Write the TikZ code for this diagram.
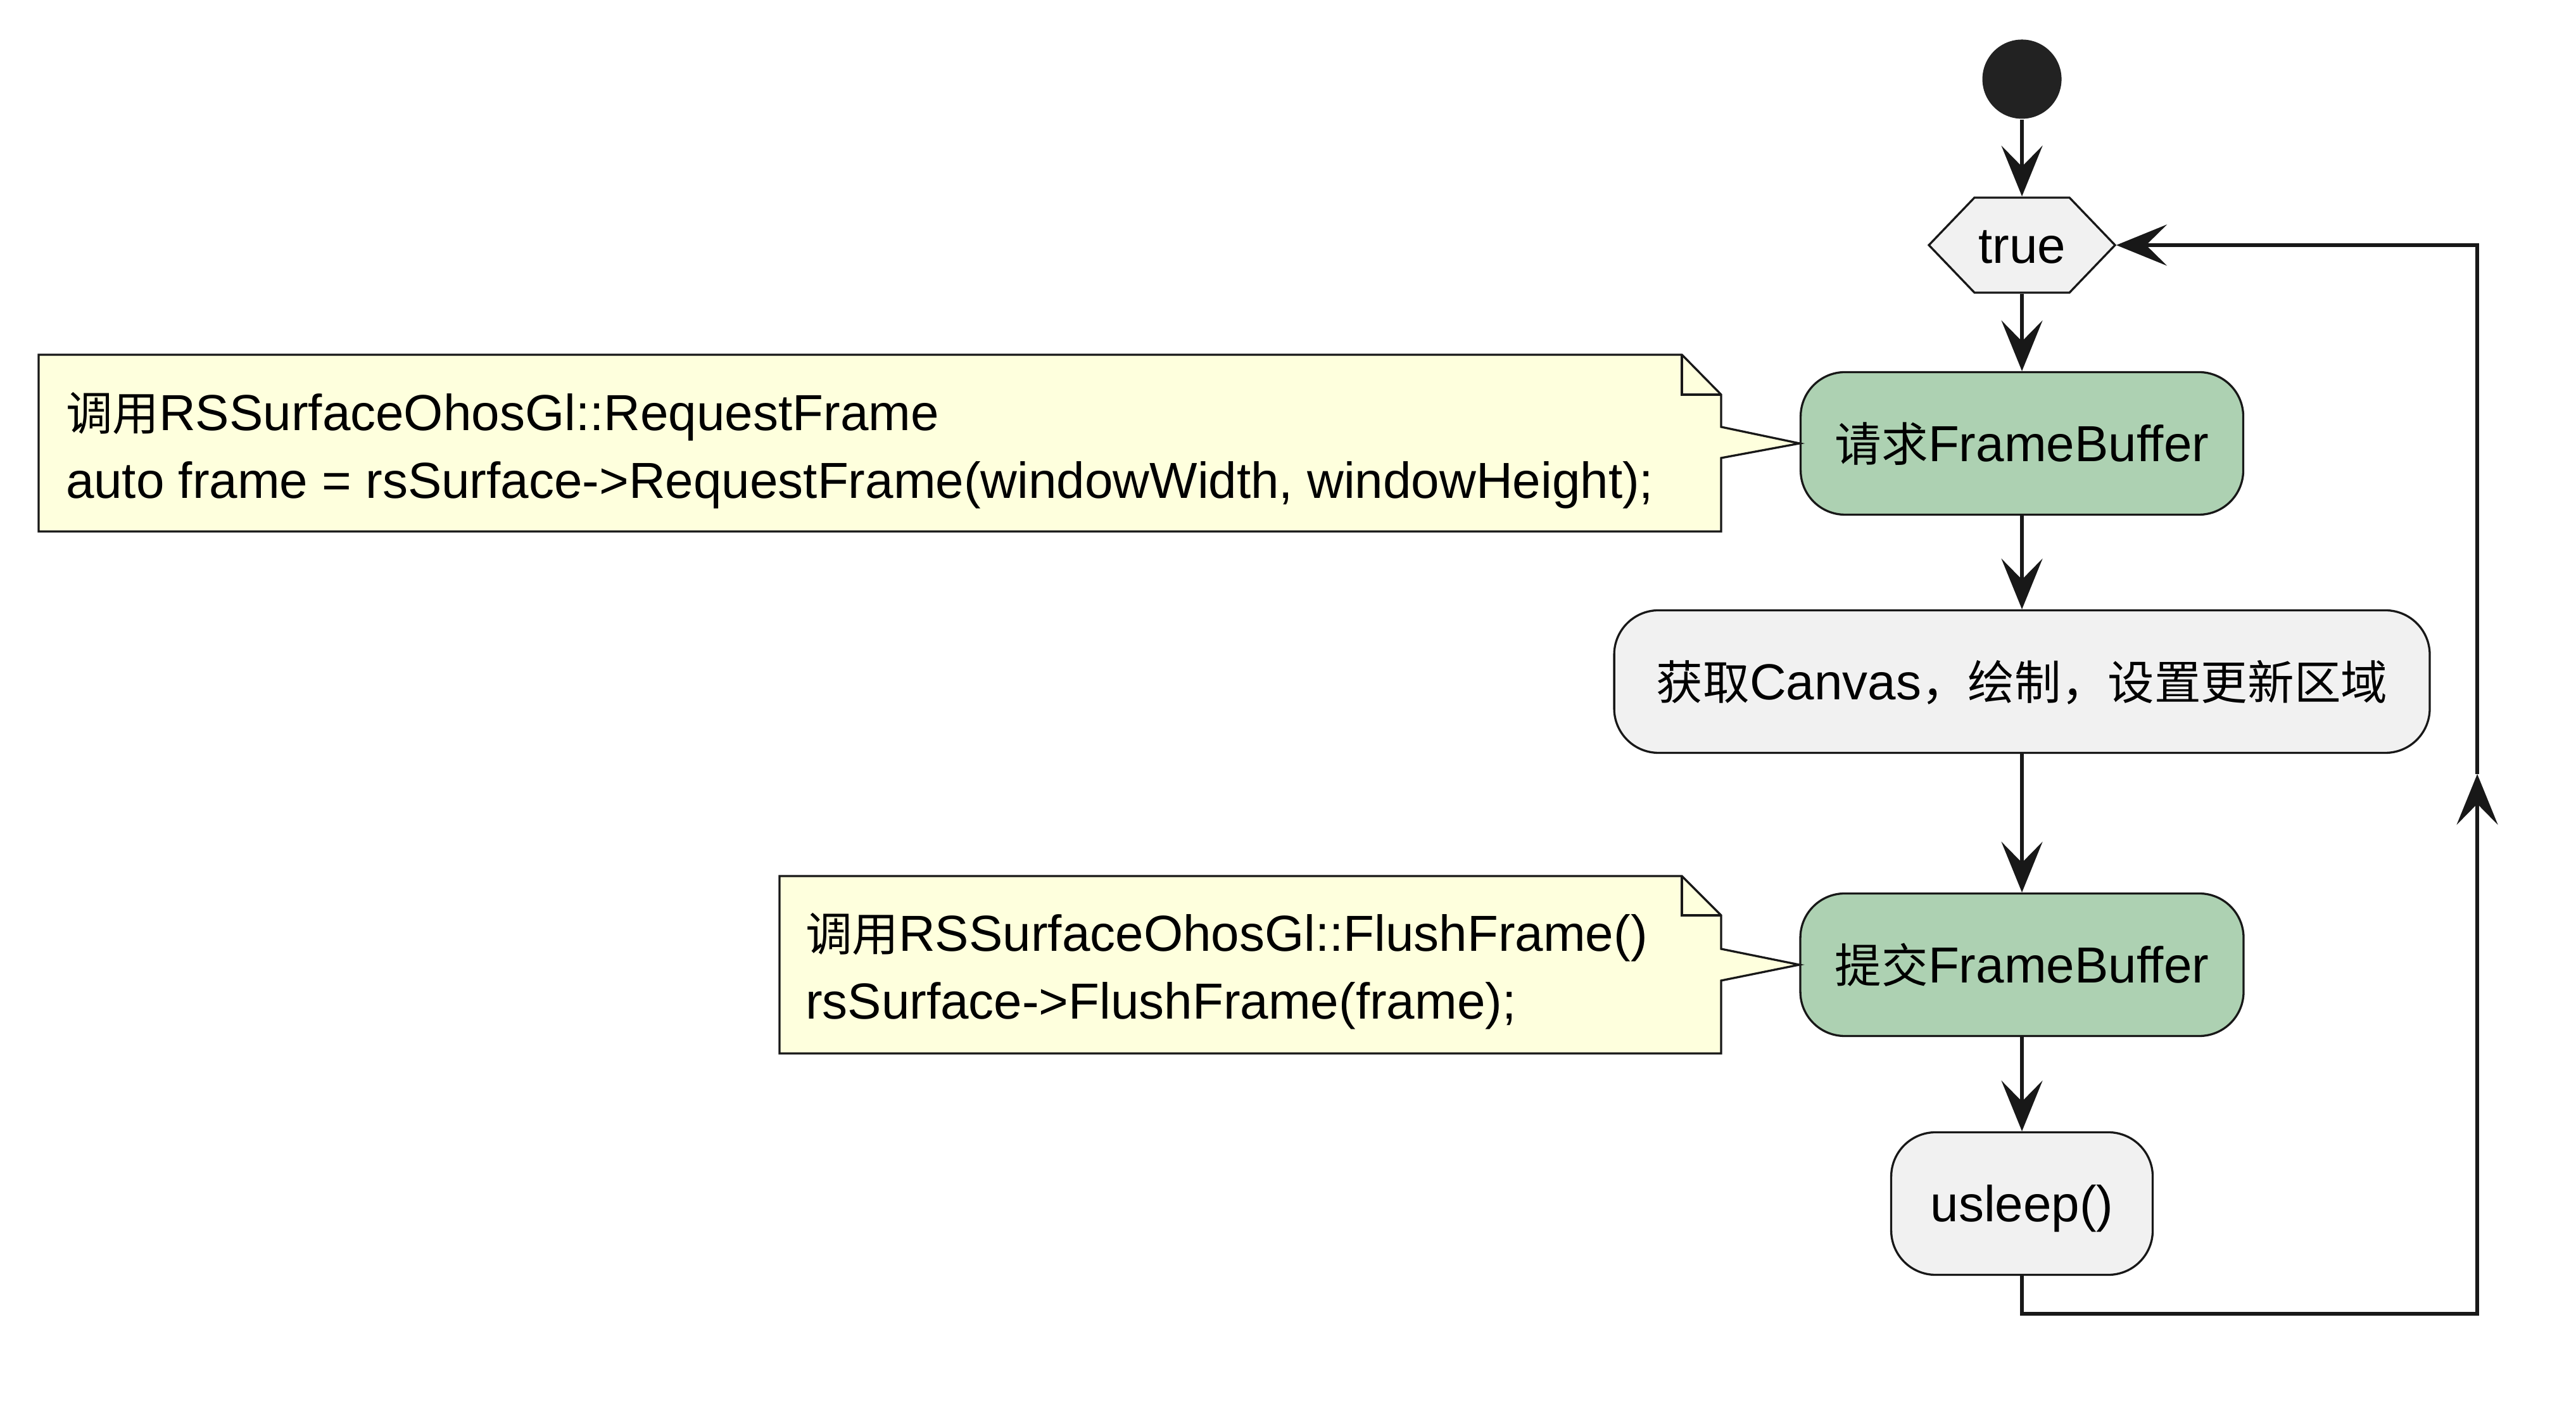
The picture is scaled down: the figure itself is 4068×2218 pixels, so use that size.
\documentclass[tikz,border=0pt]{standalone}
\usepackage{fontspec}
\setmainfont{Liberation Sans}
\newfontfamily\cjk{Noto Sans CJK SC}[Scale=0.92]
\usetikzlibrary{arrows.meta}
\definecolor{greenfill}{HTML}{ADD1B2}
\definecolor{greyfill}{HTML}{F1F1F1}
\definecolor{notefill}{HTML}{FEFFDD}
\definecolor{ink}{HTML}{181818}
\definecolor{dotfill}{HTML}{222222}
\tikzset{
  flow/.style={draw=ink, line width=0.57pt, -{Stealth[length=8pt,width=6.5pt,inset=3.3pt]}},
  loopline/.style={draw=ink, line width=0.57pt},
  activity/.style={draw=ink, line width=0.33pt, rounded corners=7pt, minimum height=22.5pt,
    inner sep=0pt, text height=5.73pt, text depth=0pt},
  notebox/.style={draw=ink, fill=notefill, line width=0.33pt},
  notefold/.style={draw=ink, line width=0.33pt},
  notetext/.style={anchor=base west, inner sep=0pt},
  hexbox/.style={draw=ink, fill=greyfill, line width=0.33pt},
}
\begin{document}
\begin{tikzpicture}[x=0.1pt, y=-0.1pt, font=\fontsize{8pt}{10.7pt}\selectfont, text=black]
\useasboundingbox (0,0) rectangle (4068,2218);

% start
\node[circle, fill=dotfill, minimum size=12.5pt, inner sep=0pt] (start) at (3193,125) {};

% hexagon "true"
\path[hexbox] (3046,387) -- (3118,312) -- (3268,312) -- (3340,387) -- (3268,462) -- (3118,462) -- cycle;
\node[minimum width=29.4pt, minimum height=15pt, inner sep=0pt, text height=5.73pt, text depth=0pt] (hex) at (3193,387) {true};

% activities
\node[activity, fill=greenfill, minimum width=69.9pt] (req) at (3193,700) {{\cjk 请求}FrameBuffer};
\node[activity, fill=greyfill, minimum width=128.8pt] (canvas) at (3193,1076) {{\cjk 获取}Canvas{\cjk ，绘制，设置更新区域}};
\node[activity, fill=greenfill, minimum width=70pt] (flush) at (3193,1523) {{\cjk 提交}FrameBuffer};
\node[activity, fill=greyfill, minimum width=41.3pt] (usleep) at (3193,1900) {usleep()};

% connectors
\draw[flow] (start) -- (hex);
\draw[flow] (hex) -- (req);
\draw[flow] (req) -- (canvas);
\draw[flow] (canvas) -- (flush);
\draw[flow] (flush) -- (usleep);

% loop back
\coordinate (loopA) at (3912,2074);
\coordinate (loopMid) at (3912,1222);
\draw[flow] (usleep.south) |- (loopA) -- (loopMid);
\draw[flow] (loopMid) |- (hex.east);

% note 1
\path[notebox] (61,560) -- (2656,560) -- (2718,623) -- (2718,674) -- (req.west) -- (2718,723) -- (2718,839) -- (61,839) -- cycle;
\draw[notefold] (2656,560) -- (2656,623) -- (2718,623);
\node[notetext] (n1a) at (102,680) {{\cjk 调用}RSSurfaceOhosGl::RequestFrame};
\node[notetext] (n1b) at (102,787) {auto frame = rsSurface->RequestFrame(windowWidth, windowHeight);};

% note 2
\path[notebox] (1231,1383) -- (2656,1383) -- (2718,1445) -- (2718,1498) -- (flush.west) -- (2718,1548) -- (2718,1663) -- (1231,1663) -- cycle;
\draw[notefold] (2656,1383) -- (2656,1445) -- (2718,1445);
\node[notetext] (n2a) at (1270,1502) {{\cjk 调用}RSSurfaceOhosGl::FlushFrame()};
\node[notetext] (n2b) at (1270,1609) {rsSurface->FlushFrame(frame);};
\end{tikzpicture}
\end{document}
